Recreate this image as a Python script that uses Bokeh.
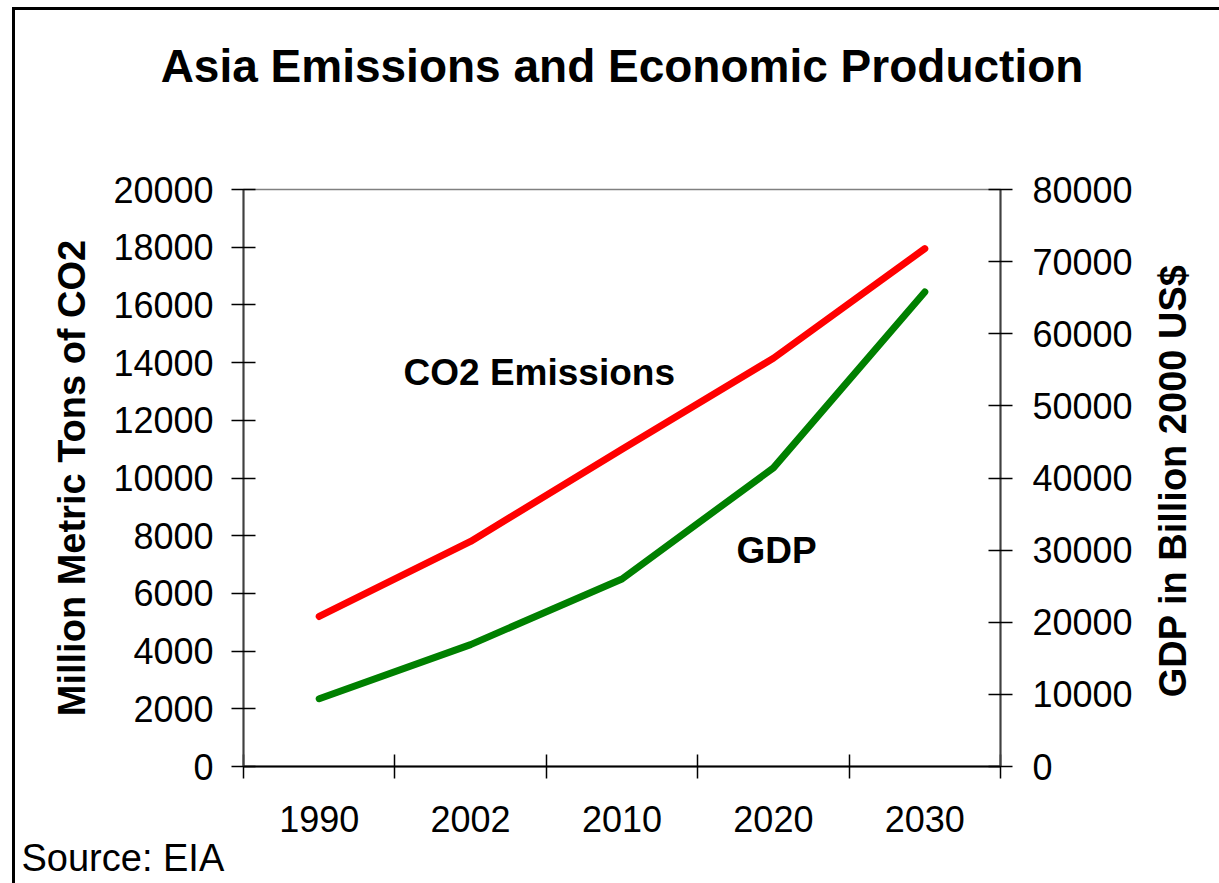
import math
from bokeh.plotting import figure
from bokeh.layouts import row
from bokeh.models import Range1d, LinearAxis, FixedTicker, Label, Title
from bokeh.embed import file_html
from bokeh.resources import INLINE

# ---- data ----
years = ["1990", "2002", "2010", "2020", "2030"]
co2_emissions = [5200, 7800, 11000, 14150, 17950]      # million metric tons CO2
gdp = [9400, 16900, 26000, 41400, 65800]                # billion 2000 US$
left_ticks = [0, 2000, 4000, 6000, 8000, 10000, 12000, 14000, 16000, 18000, 20000]
right_ticks = [0, 10000, 20000, 30000, 40000, 50000, 60000, 70000, 80000]

FONT = "Liberation Sans"
x = [i + 0.5 for i in range(len(years))]
bounds = [float(i) for i in range(len(years) + 1)]

p = figure(width=1130, height=873, output_backend="svg", toolbar_location=None,
           x_range=Range1d(0, len(years)), y_range=Range1d(0, 20000),
           min_border_left=228, min_border_right=145, min_border_top=179, min_border_bottom=117,
           x_axis_type=None, y_axis_type=None)
p.extra_y_ranges = {"gdp": Range1d(0, 80000)}
p.grid.visible = False
p.background_fill_color = "white"
p.border_fill_color = "white"
p.outline_line_color = "#808080"
p.outline_line_width = 1.5

# title
p.title.text = "Asia Emissions and Economic Production"
p.title.text_font = FONT
p.title.text_font_size = "46px"
p.title.text_font_style = "bold"
p.title.text_color = "black"
p.title.align = "center"
p.title.standoff = 0
p.title.padding = {"left": 0, "right": 0, "top": 0, "bottom": 98}

# bottom axis: labels at centers, ticks at category boundaries
xa = LinearAxis(ticker=FixedTicker(ticks=x, minor_ticks=bounds))
xa.major_label_overrides = {xv: yr for xv, yr in zip(x, years)}
xa.major_tick_in = 0
xa.major_tick_out = 0
xa.minor_tick_in = 12
xa.minor_tick_out = 12
xa.minor_tick_line_color = "black"
xa.minor_tick_line_width = 1.5
xa.axis_line_color = "black"
xa.axis_line_width = 2
xa.major_label_text_font = FONT
xa.major_label_text_font_size = "36px"
xa.major_label_text_color = "black"
xa.major_label_standoff = 27
p.add_layout(xa, "below")

src = Title(text="Source:  EIA", align="left", offset=-222, text_font=FONT,
            text_font_size="38px", text_font_style="normal", text_color="black", standoff=0)
p.add_layout(src, "below")

ya = LinearAxis(ticker=FixedTicker(ticks=left_ticks))
ya.axis_label = "Million Metric Tons of CO2"
ya.axis_label_text_font = FONT
ya.axis_label_text_font_size = "38px"
ya.axis_label_text_font_style = "bold"
ya.axis_label_text_color = "black"
ya.axis_label_standoff = 17
ya.major_tick_in = 12
ya.major_tick_out = 12
ya.major_tick_line_color = "black"
ya.major_tick_line_width = 1.5
ya.minor_tick_line_color = None
ya.axis_line_color = "#404040"
ya.axis_line_width = 2
ya.major_label_text_font = FONT
ya.major_label_text_font_size = "36px"
ya.major_label_text_color = "black"
ya.major_label_standoff = 18
p.add_layout(ya, "left")

ra = LinearAxis(y_range_name="gdp", ticker=FixedTicker(ticks=right_ticks))
ra.major_tick_in = 12
ra.major_tick_out = 12
ra.major_tick_line_color = "black"
ra.major_tick_line_width = 1.5
ra.minor_tick_line_color = None
ra.axis_line_color = "#404040"
ra.axis_line_width = 2
ra.major_label_text_font = FONT
ra.major_label_text_font_size = "36px"
ra.major_label_text_color = "black"
ra.major_label_standoff = 20
p.add_layout(ra, "right")

p.line(x, co2_emissions, line_color="#FF0000", line_width=7, line_cap="round", line_join="round")
p.line(x, gdp, line_color="#008000", line_width=7, line_cap="round", line_join="round",
       y_range_name="gdp")

def lab(fig, xv, yv, text, size, bold=False, align="left", baseline="alphabetic", angle=0.0):
    fig.add_layout(Label(x=xv, y=yv, text=text, text_font=FONT, text_font_size=size,
                         text_font_style="bold" if bold else "normal", text_color="black",
                         text_align=align, text_baseline=baseline, angle=angle))

lab(p, 1.057, 13640, "CO2 Emissions", "37px", bold=True)
lab(p, 3.256, 7470, "GDP", "37px", bold=True)

# narrow panel holding the right axis title (reads bottom-to-top, like the left one)
p2 = figure(width=74, height=873, output_backend="svg", toolbar_location=None,
            x_range=Range1d(0, 1), y_range=Range1d(0, 1), title=None,
            min_border_left=0, min_border_right=0, min_border_top=0, min_border_bottom=0,
            x_axis_type=None, y_axis_type=None)
p2.grid.visible = False
p2.outline_line_color = None
p2.background_fill_color = "white"
p2.border_fill_color = "white"
lab(p2, 0.365, 0.495, "GDP in Billion 2000 US$", "38px", bold=True, align="center",
    baseline="middle", angle=math.pi / 2)

layout = row(p, p2, spacing=0)
layout.styles = {"border-left": "3px solid black", "border-top": "3px solid black",
                 "margin-left": "12px", "margin-top": "7px"}

open("out.html", "w").write(file_html(layout, INLINE))
